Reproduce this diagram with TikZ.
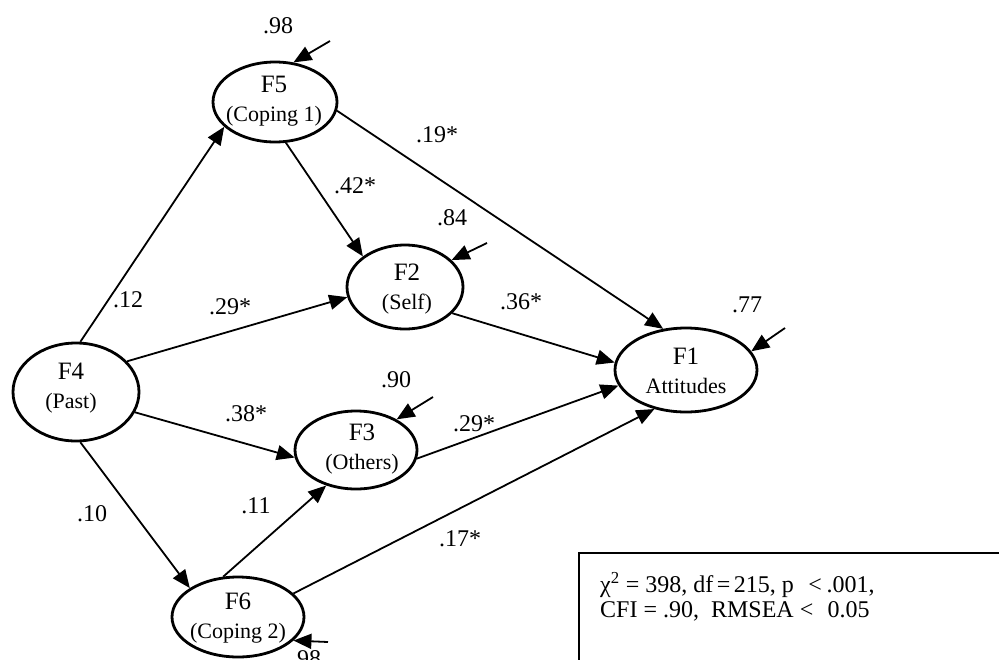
\documentclass[tikz,border=0pt]{standalone}
\usepackage{fontspec}
\setmainfont{Liberation Serif}
\usetikzlibrary{shapes.geometric,arrows.meta}
\begin{document}
\begin{tikzpicture}[x=1pt,y=-1pt,
  lat/.style={ellipse,draw,line width=2.8pt,inner sep=0pt},
  ltxt/.style={align=center,inner sep=0pt,font=\fontsize{22}{29}\selectfont},
  pth/.style={line width=1.8pt,-{Triangle[length=18pt,width=15pt]}},
  coef/.style={inner sep=0pt,font=\fontsize{24}{26}\selectfont},
]
\useasboundingbox (0,0) rectangle (999,659);
% latent variables
\node[lat,minimum width=124pt,minimum height=80pt] (F5) at (275,102) {};
\node[lat,minimum width=116pt,minimum height=84pt] (F2) at (405,287) {};
\node[lat,minimum width=142pt,minimum height=84pt] (F1) at (686,370) {};
\node[lat,minimum width=122pt,minimum height=78pt] (F3) at (356,450) {};
\node[lat,minimum width=126pt,minimum height=98pt] (F4) at (76,392) {};
\node[lat,minimum width=132pt,minimum height=80pt] (F6) at (238,617) {};
% texts
\node[ltxt] (t5) at (274,101) {{\fontsize{25}{29}\selectfont F5}\\(Coping 1)};
\node[ltxt] (t2) at (407,289) {{\fontsize{25}{29}\selectfont F2}\\(Self)};
\node[ltxt] (t1) at (686,371) {{\fontsize{25}{29}\selectfont F1}\\Attitudes};
\node[ltxt] (t3) at (362,449) {{\fontsize{25}{29}\selectfont F3}\\(Others)};
\node[ltxt] (t4) at (71,388) {{\fontsize{25}{29}\selectfont F4}\\(Past)};
\node[ltxt] (t6) at (238,618) {{\fontsize{25}{29}\selectfont F6}\\(Coping 2)};
% paths
\draw[pth] (F4.85) -- (F5.206);
\draw[pth] (F4.31) -- (F2.190);
\draw[pth] (F4.-19) -- (F3.187);
\draw[pth] (F4.-85) -- (F6.149);
\draw[pth] (F5.-75) -- (F2.144);
\draw[pth] (F5.-8) -- (F1.119);
\draw[pth] (F2.-29) -- (F1.174);
\draw[pth] (F3.-8) -- (F1.193);
\draw[pth] (F6.110) -- (F3.230);
\draw[pth] (F6.23) -- (F1.231);
% residuals
\coordinate (r5) at (330,41);
\coordinate (r2) at (487,243);
\coordinate (r1) at (785,328);
\coordinate (r3) at (433,397);
\coordinate (r6) at (328,642);
\draw[pth] (r5) -- (F5.65);
\draw[pth] (r2) -- (F2.30);
\draw[pth] (r1) -- (F1.16);
\draw[pth] (r3) -- (F3.37);
\draw[pth] (r6) -- (F6.-23);
% coefficients
\node[coef] (c1) at (278,26) {.98};
\node[coef] (c2) at (128,300) {.12};
\node[coef] (c3) at (437,135) {.19*};
\node[coef] (c4) at (355,186) {.42*};
\node[coef] (c5) at (452,218) {.84};
\node[coef] (c6) at (230,307) {.29*};
\node[coef] (c7) at (521,302) {.36*};
\node[coef] (c8) at (747,305) {.77};
\node[coef] (c9) at (246,414) {.38*};
\node[coef] (c10) at (396,380) {.90};
\node[coef] (c11) at (474,424) {.29*};
\node[coef] (c12) at (92,514) {.10};
\node[coef] (c13) at (256,506) {.11};
\node[coef] (c14) at (460,539) {.17*};
\node[coef] (c15) at (306,659) {.98};
% fit box
\node[draw,line width=1.8pt,anchor=north west,minimum width=440pt,minimum height=140pt,inner sep=0pt] (box) at (578,552) {};
\node[anchor=west,align=left,inner sep=0pt,font=\fontsize{24}{25}\selectfont] (fit) at (600,597)
  {χ\textsuperscript{2} = 398, df\hspace{0.15em}=\hspace{0.15em}215, p\hspace{0.6em}<\hspace{0.2em}.001,\\CFI = .90, \ RMSEA <\hspace{0.6em}0.05};
\end{tikzpicture}
\end{document}
